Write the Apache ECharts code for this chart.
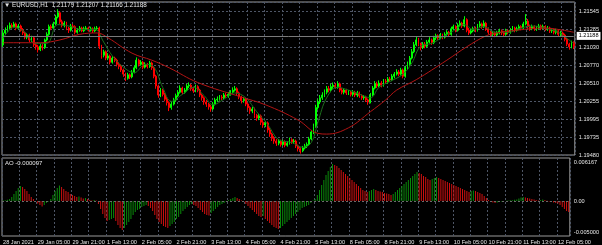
<!DOCTYPE html>
<html><head><meta charset="utf-8">
<script src="https://cdn.jsdelivr.net/npm/echarts@6/dist/echarts.min.js"></script>
<style>html,body{margin:0;padding:0;background:#000;}#c{width:602px;height:245px;}</style>
</head><body><div id="c"></div>
<script>
// ---- data ----
const headerText = '\u25BC EURUSD,H1  1.21179 1.21207 1.21166 1.21188';
const aoTitle = 'AO -0.000097';
const tickLabels = ['28 Jan 2021','29 Jan 05:00','29 Jan 21:00','1 Feb 13:00','2 Feb 05:00','2 Feb 21:00','3 Feb 13:00','4 Feb 05:00','4 Feb 21:00','5 Feb 13:00','8 Feb 05:00','8 Feb 21:00','9 Feb 13:00','10 Feb 05:00','10 Feb 21:00','11 Feb 13:00','12 Feb 05:00'];
const priceLabels = ['1.19480','1.19735','1.19995','1.20255','1.20510','1.20770','1.21030','1.21285','1.21545'];
const aoLabelValues = [0.006167, 0, -0.005];
const aoLabelTexts = ['0.006167', '0.00', '-0.005000'];
const bidPrice = 1.21188;
const bidText = '1.21188';
const firstOpen = 1.2106;
const close = [
1.2123,1.2127,1.2130,1.2134,1.2132,1.2136,1.2130,1.2133,1.2127,1.2123,
1.2117,1.2120,1.2113,1.2116,1.2106,1.2103,1.2099,1.2104,1.2102,1.2113,
1.2121,1.2132,1.2130,1.2136,1.2146,1.2152,1.2139,1.2134,1.2137,1.2130,
1.2127,1.2133,1.2132,1.2124,1.2127,1.2130,1.2126,1.2129,1.2130,1.2127,
1.2129,1.2126,1.2129,1.2130,1.2104,1.2091,1.2096,1.2087,1.2090,1.2081,
1.2087,1.2084,1.2078,1.2075,1.2070,1.2064,1.2058,1.2063,1.2060,1.2067,
1.2073,1.2084,1.2078,1.2081,1.2074,1.2078,1.2075,1.2080,1.2073,1.2061,
1.2047,1.2034,1.2041,1.2035,1.2028,1.2023,1.2016,1.2021,1.2027,1.2033,
1.2038,1.2044,1.2038,1.2041,1.2047,1.2048,1.2043,1.2040,1.2046,1.2041,
1.2034,1.2030,1.2024,1.2021,1.2017,1.2014,1.2021,1.2027,1.2028,1.2031,
1.2030,1.2034,1.2033,1.2035,1.2038,1.2041,1.2043,1.2037,1.2031,1.2026,
1.2028,1.2021,1.2016,1.2011,1.2014,1.2005,1.2001,1.2004,1.1995,1.1991,
1.1994,1.1984,1.1978,1.1972,1.1968,1.1965,1.1968,1.1963,1.1967,1.1962,
1.1965,1.1970,1.1967,1.1968,1.1961,1.1957,1.1954,1.1958,1.1961,1.1963,
1.1971,1.1981,1.1989,1.2016,1.2024,1.2030,1.2034,1.2038,1.2043,1.2041,
1.2046,1.2048,1.2046,1.2050,1.2041,1.2038,1.2041,1.2037,1.2038,1.2035,
1.2038,1.2034,1.2037,1.2033,1.2030,1.2031,1.2027,1.2024,1.2034,1.2044,
1.2050,1.2047,1.2051,1.2048,1.2054,1.2053,1.2057,1.2056,1.2061,1.2064,
1.2067,1.2064,1.2070,1.2061,1.2073,1.2078,1.2087,1.2096,1.2106,1.2113,
1.2107,1.2102,1.2107,1.2104,1.2110,1.2113,1.2109,1.2116,1.2119,1.2116,
1.2120,1.2117,1.2121,1.2124,1.2121,1.2129,1.2132,1.2127,1.2134,1.2137,
1.2133,1.2142,1.2127,1.2123,1.2126,1.2129,1.2127,1.2133,1.2136,1.2132,
1.2137,1.2129,1.2124,1.2121,1.2123,1.2120,1.2123,1.2126,1.2123,1.2121,
1.2126,1.2124,1.2127,1.2130,1.2127,1.2129,1.2132,1.2130,1.2136,1.2140,
1.2132,1.2129,1.2132,1.2129,1.2130,1.2133,1.2130,1.2132,1.2129,1.2130,
1.2126,1.2127,1.2124,1.2126,1.2121,1.2123,1.2120,1.2114,1.2107,1.2103,
1.2109,1.2104];
const high = [
1.2127,1.2131,1.2134,1.2138,1.2137,1.2139,1.2138,1.2136,1.2135,1.2130,
1.2125,1.2123,1.2122,1.2119,1.2118,1.2109,1.2106,1.2107,1.2107,1.2115,
1.2124,1.2135,1.2135,1.2139,1.2149,1.2157,1.2154,1.2142,1.2140,1.2139,
1.2132,1.2136,1.2136,1.2134,1.2130,1.2133,1.2132,1.2132,1.2133,1.2132,
1.2132,1.2131,1.2132,1.2133,1.2132,1.2106,1.2099,1.2098,1.2094,1.2092,
1.2090,1.2089,1.2086,1.2081,1.2078,1.2072,1.2066,1.2066,1.2065,1.2070,
1.2076,1.2088,1.2086,1.2084,1.2083,1.2081,1.2080,1.2083,1.2082,1.2075,
1.2063,1.2049,1.2044,1.2043,1.2037,1.2031,1.2025,1.2024,1.2030,1.2036,
1.2041,1.2048,1.2046,1.2044,1.2050,1.2052,1.2050,1.2046,1.2049,1.2048,
1.2043,1.2036,1.2032,1.2027,1.2023,1.2020,1.2024,1.2030,1.2032,1.2034,
1.2034,1.2037,1.2037,1.2038,1.2041,1.2045,1.2047,1.2045,1.2039,1.2033,
1.2031,1.2030,1.2023,1.2018,1.2017,1.2016,1.2007,1.2007,1.2006,1.1998,
1.1997,1.1996,1.1987,1.1980,1.1975,1.1971,1.1971,1.1970,1.1970,1.1969,
1.1968,1.1973,1.1972,1.1971,1.1970,1.1963,1.1959,1.1961,1.1964,1.1966,
1.1974,1.1984,1.1993,1.2020,1.2028,1.2034,1.2038,1.2042,1.2047,1.2047,
1.2050,1.2052,1.2051,1.2054,1.2052,1.2044,1.2044,1.2043,1.2041,1.2040,
1.2041,1.2040,1.2040,1.2039,1.2035,1.2034,1.2033,1.2029,1.2037,1.2047,
1.2054,1.2053,1.2055,1.2054,1.2057,1.2057,1.2060,1.2060,1.2064,1.2067,
1.2071,1.2070,1.2073,1.2072,1.2076,1.2082,1.2090,1.2100,1.2110,1.2118,
1.2116,1.2109,1.2110,1.2110,1.2113,1.2117,1.2115,1.2119,1.2122,1.2121,
1.2123,1.2122,1.2124,1.2127,1.2126,1.2132,1.2135,1.2134,1.2137,1.2141,
1.2139,1.2147,1.2144,1.2130,1.2129,1.2132,1.2132,1.2136,1.2140,1.2138,
1.2141,1.2139,1.2131,1.2126,1.2126,1.2125,1.2126,1.2129,1.2128,1.2126,
1.2129,1.2128,1.2130,1.2133,1.2132,1.2132,1.2135,1.2134,1.2139,1.2150,
1.2143,1.2135,1.2135,1.2134,1.2133,1.2136,1.2135,1.2135,1.2134,1.2133,
1.2132,1.2130,1.2129,1.2129,1.2128,1.2126,1.2125,1.2122,1.2116,1.2109,
1.2112,1.2111];
const low = [
1.2103,1.2120,1.2124,1.2128,1.2129,1.2130,1.2127,1.2128,1.2125,1.2120,
1.2114,1.2114,1.2110,1.2110,1.2103,1.2099,1.2095,1.2097,1.2098,1.2100,
1.2111,1.2119,1.2127,1.2128,1.2134,1.2144,1.2136,1.2131,1.2131,1.2127,
1.2123,1.2125,1.2129,1.2121,1.2122,1.2125,1.2124,1.2124,1.2127,1.2125,
1.2125,1.2123,1.2124,1.2127,1.2100,1.2086,1.2088,1.2084,1.2084,1.2078,
1.2079,1.2081,1.2075,1.2071,1.2067,1.2060,1.2054,1.2056,1.2057,1.2058,
1.2065,1.2071,1.2075,1.2076,1.2071,1.2072,1.2072,1.2073,1.2070,1.2058,
1.2043,1.2030,1.2031,1.2032,1.2025,1.2019,1.2011,1.2013,1.2019,1.2025,
1.2031,1.2036,1.2035,1.2036,1.2039,1.2044,1.2040,1.2037,1.2038,1.2038,
1.2031,1.2026,1.2020,1.2017,1.2013,1.2010,1.2012,1.2019,1.2024,1.2026,
1.2027,1.2028,1.2030,1.2030,1.2033,1.2036,1.2039,1.2034,1.2028,1.2022,
1.2023,1.2018,1.2012,1.2007,1.2008,1.2001,1.1997,1.1998,1.1991,1.1987,
1.1988,1.1980,1.1974,1.1968,1.1964,1.1961,1.1962,1.1960,1.1961,1.1959,
1.1960,1.1963,1.1964,1.1964,1.1958,1.1953,1.1950,1.1952,1.1956,1.1958,
1.1961,1.1969,1.1978,1.1987,1.2013,1.2021,1.2027,1.2031,1.2035,1.2038,
1.2038,1.2043,1.2043,1.2043,1.2038,1.2035,1.2035,1.2034,1.2034,1.2032,
1.2032,1.2031,1.2031,1.2030,1.2027,1.2027,1.2024,1.2020,1.2022,1.2032,
1.2042,1.2044,1.2045,1.2045,1.2046,1.2050,1.2050,1.2053,1.2054,1.2058,
1.2062,1.2061,1.2062,1.2058,1.2059,1.2071,1.2076,1.2085,1.2094,1.2104,
1.2104,1.2098,1.2100,1.2101,1.2102,1.2108,1.2106,1.2107,1.2113,1.2113,
1.2114,1.2114,1.2115,1.2119,1.2118,1.2119,1.2127,1.2124,1.2125,1.2132,
1.2130,1.2131,1.2124,1.2120,1.2121,1.2124,1.2124,1.2125,1.2131,1.2129,
1.2130,1.2126,1.2121,1.2118,1.2118,1.2117,1.2118,1.2121,1.2120,1.2118,
1.2119,1.2121,1.2122,1.2125,1.2124,1.2125,1.2127,1.2127,1.2128,1.2134,
1.2129,1.2126,1.2127,1.2126,1.2126,1.2128,1.2127,1.2128,1.2126,1.2126,
1.2123,1.2123,1.2121,1.2121,1.2118,1.2118,1.2117,1.2111,1.2104,1.2099,
1.2101,1.2100];
const ao = [
0.00008,0.00013,0.00019,0.00032,0.00064,0.00112,0.0016,0.00208,0.0024,0.00224,
0.00192,0.0016,0.00112,0.00064,0.00032,-0.00008,-0.0004,-0.00064,-0.00088,-0.00064,
-0.00032,-0.00008,0.00032,0.00096,0.0016,0.00208,0.00248,0.00224,0.00192,0.0016,
0.00144,0.00112,0.00096,0.0008,0.00064,0.00072,0.00056,0.0004,0.00048,0.00032,
0.00016,0.00008,0.00016,0.00008,-0.00048,-0.00128,-0.00208,-0.00272,-0.0032,-0.00304,
-0.00288,-0.00272,-0.0032,-0.00384,-0.00432,-0.00464,-0.00432,-0.00384,-0.00336,-0.00288,
-0.00224,-0.00176,-0.00144,-0.00128,-0.00096,-0.0008,-0.00064,-0.0008,-0.00112,-0.0016,
-0.00224,-0.00288,-0.00336,-0.00368,-0.004,-0.00416,-0.00432,-0.004,-0.00368,-0.00336,
-0.00288,-0.00256,-0.00208,-0.0016,-0.00128,-0.00096,-0.00064,-0.00048,-0.00064,-0.0008,
-0.00112,-0.00144,-0.00176,-0.00208,-0.00224,-0.00232,-0.00192,-0.0016,-0.00128,-0.00096,
-0.00064,-0.00048,-0.00032,-0.00016,0.00016,0.00032,0.00048,0.00064,0.00048,0.00032,
0.00008,-0.00016,-0.00048,-0.0008,-0.00112,-0.00144,-0.00176,-0.00208,-0.0024,-0.00256,
-0.0024,-0.00288,-0.0032,-0.00352,-0.00384,-0.00416,-0.00432,-0.00448,-0.00432,-0.004,
-0.00368,-0.00336,-0.00304,-0.00272,-0.0024,-0.00208,-0.00176,-0.00144,-0.00112,-0.00096,
-0.0008,-0.00064,-0.00032,0.00008,0.00032,0.00096,0.00176,0.00256,0.00336,0.00416,
0.0048,0.00544,0.00592,0.00576,0.0056,0.00528,0.00496,0.00464,0.00432,0.004,
0.00368,0.00336,0.00304,0.00272,0.0024,0.00208,0.00176,0.0016,0.00144,0.0016,
0.00176,0.00192,0.00176,0.0016,0.00152,0.00144,0.00128,0.0012,0.00112,0.00096,
0.00112,0.00144,0.00176,0.00208,0.0024,0.00272,0.00304,0.00336,0.00368,0.004,
0.00432,0.00464,0.00448,0.00432,0.004,0.00384,0.00352,0.00336,0.00352,0.00368,
0.00384,0.00368,0.00352,0.00336,0.0032,0.00304,0.00288,0.00272,0.00256,0.0024,
0.00224,0.00208,0.00192,0.00176,0.0016,0.00144,0.0016,0.00168,0.0016,0.00144,
0.00128,0.00112,0.0008,0.00048,0.00016,-0.00016,-0.00024,-0.00032,-0.00024,-0.00016,
-0.00008,-0.00005,0.00005,0.00008,0.00011,0.00014,0.00019,0.00026,0.0004,0.00056,
0.00064,0.00056,0.00048,0.0004,0.00032,0.00024,0.00016,0.00008,0.00016,0.00024,
0.00016,0.00005,-0.00008,-0.00016,-0.00024,-0.00032,-0.0004,-0.00064,-0.00096,-0.00128,
-0.0016,-0.00176];
// slow moving average (red), read at selected bars
const maIdx = [0,17,26,35,43,48,59,68,76,89,109,120,135,144,148,158,168,175,180,189,203,212,221,226,235,248,256,261];
const maVal = [1.2109,1.2109,1.2113,1.2121,1.2123,1.2116,1.2094,1.2084,1.2073,1.2052,1.2031,1.2020,1.1998,1.1979,1.1978,1.1987,1.2010,1.2027,1.2041,1.2056,1.2084,1.2103,1.2119,1.2123,1.2127,1.2130,1.2127,1.2124];
// fast moving average (dark green), read at selected bars
const fastIdx = [0,5,10,15,20,25,30,36,42,46,50,55,60,65,69,73,77,82,87,92,96,101,106,111,116,121,126,132,137,141,144,148,153,158,164,168,172,178,183,187,191,196,201,206,211,215,220,225,231,237,242,248,254,258,261];
const fastVal = [1.2115,1.2131,1.2124,1.2108,1.2108,1.2135,1.2133,1.2128,1.2128,1.2110,1.2090,1.2074,1.2066,1.2078,1.2074,1.2045,1.2025,1.2035,1.2045,1.2033,1.2020,1.2028,1.2037,1.2030,1.2010,1.1992,1.1970,1.1966,1.1959,1.1966,1.1995,1.2030,1.2045,1.2041,1.2034,1.2030,1.2045,1.2055,1.2064,1.2080,1.2104,1.2108,1.2117,1.2126,1.2135,1.2128,1.2132,1.2124,1.2124,1.2130,1.2133,1.2130,1.2124,1.2115,1.2108];

// ---- chart ----
const cats = close.map((_, i) => String(i));
const candles = close.map((c, i) => [i === 0 ? firstOpen : close[i - 1], c, low[i], high[i]]);
const pMin = 1.19480, pMax = 1.21674, pStep = 0.00258125;
const GRIDC = '#4e5666';
const FONT = 'Liberation Sans';
const lblStyle = {color: '#e6e6e6', fontSize: 5.6, fontFamily: FONT};

const chart = echarts.init(document.getElementById('c'));
chart.setOption({
  backgroundColor: '#000',
  animation: false,
  title: [
    {text: headerText, left: 4, top: 2, padding: 0, textStyle: {color: '#e6e6e6', fontSize: 6.3, fontWeight: 'normal', fontFamily: FONT}},
    {text: aoTitle, left: 5, top: 160, padding: 0, textStyle: {color: '#e6e6e6', fontSize: 6, fontWeight: 'normal', fontFamily: FONT}}
  ],
  grid: [
    {left: 2, right: 23, top: 2, height: 153, show: true, borderColor: '#9a9a9a', borderWidth: 1},
    {left: 2, right: 23, top: 158, height: 78, show: true, borderColor: '#9a9a9a', borderWidth: 1}
  ],
  xAxis: [
    {type: 'category', gridIndex: 0, data: cats, boundaryGap: true,
     axisLine: {show: false}, axisTick: {show: false}, axisLabel: {show: false},
     splitLine: {show: true, interval: 7, lineStyle: {color: GRIDC, type: [2, 2], width: 1}}},
    {type: 'category', gridIndex: 1, data: cats, boundaryGap: true,
     axisLine: {show: false}, axisTick: {show: false},
     axisLabel: Object.assign({show: true, interval: 15, align: 'left', margin: 3,
       formatter: (v, i) => (i % 16 === 0 && tickLabels[i / 16]) ? tickLabels[i / 16] : ''}, lblStyle),
     splitLine: {show: true, interval: 7, lineStyle: {color: GRIDC, type: [2, 2], width: 1}}}
  ],
  yAxis: [
    {type: 'value', gridIndex: 0, position: 'right', min: pMin, max: pMax, interval: pStep,
     axisLine: {show: false}, axisTick: {show: false},
     axisLabel: Object.assign({margin: 4, formatter: v => {
        const k = Math.round((v - pMin) / pStep);
        return (Math.abs(v - (pMin + k * pStep)) < 1e-7 && priceLabels[k]) ? priceLabels[k] : '';
     }}, lblStyle),
     splitLine: {show: true, lineStyle: {color: GRIDC, type: [2, 2], width: 1}}},
    {type: 'value', gridIndex: 1, position: 'right', min: -0.0056, max: 0.00688,
     axisLine: {show: false}, axisTick: {show: false},
     axisLabel: Object.assign({margin: 4, customValues: aoLabelValues, formatter: v => {
        const k = aoLabelValues.findIndex(a => Math.abs(a - v) < 1e-9);
        return k >= 0 ? aoLabelTexts[k] : '';
     }}, lblStyle),
     splitLine: {show: false}}
  ],
  series: [
    {type: 'candlestick', xAxisIndex: 0, yAxisIndex: 0, data: candles, barWidth: '65%',
     itemStyle: {color: '#00ff00', color0: '#ff0000', borderColor: '#00ff00', borderColor0: '#ff0000', borderWidth: 1}},
    {type: 'line', xAxisIndex: 0, yAxisIndex: 0, data: fastIdx.map((i, k) => [i, fastVal[k]]),
     smooth: 0.4, showSymbol: false, symbol: 'none', lineStyle: {color: '#1c6e1c', width: 1}},
    {type: 'line', xAxisIndex: 0, yAxisIndex: 0, data: maIdx.map((i, k) => [i, maVal[k]]),
     smooth: 0.4, showSymbol: false, symbol: 'none', lineStyle: {color: '#b41414', width: 1},
     markLine: {silent: true, symbol: ['none', 'none'], animation: false,
       data: [[{xAxis: 0, yAxis: bidPrice}, {xAxis: close.length - 1, yAxis: bidPrice}]],
       lineStyle: {color: '#7a7a7a', type: 'solid', width: 1}, label: {show: false}}},
    {type: 'line', xAxisIndex: 0, yAxisIndex: 0, data: [[close.length - 1, bidPrice]],
     showSymbol: false, symbol: 'none', lineStyle: {width: 0},
     endLabel: {show: true, formatter: bidText, color: '#000', backgroundColor: '#ffffff', fontSize: 5.6, fontFamily: FONT, padding: [1, 2], distance: 3}},
    {type: 'bar', xAxisIndex: 1, yAxisIndex: 1, barWidth: 1,
     data: ao.map((v, i) => ({value: v, itemStyle: {color: (i === 0 || v > ao[i - 1]) ? '#0a8a0a' : '#d01010'}})),
     markLine: {silent: true, symbol: ['none', 'none'], animation: false, data: [{yAxis: 0}],
       lineStyle: {color: '#6a6a6a', type: [2, 2], width: 1}, label: {show: false}}}
  ]
});
</script>
</body></html>
